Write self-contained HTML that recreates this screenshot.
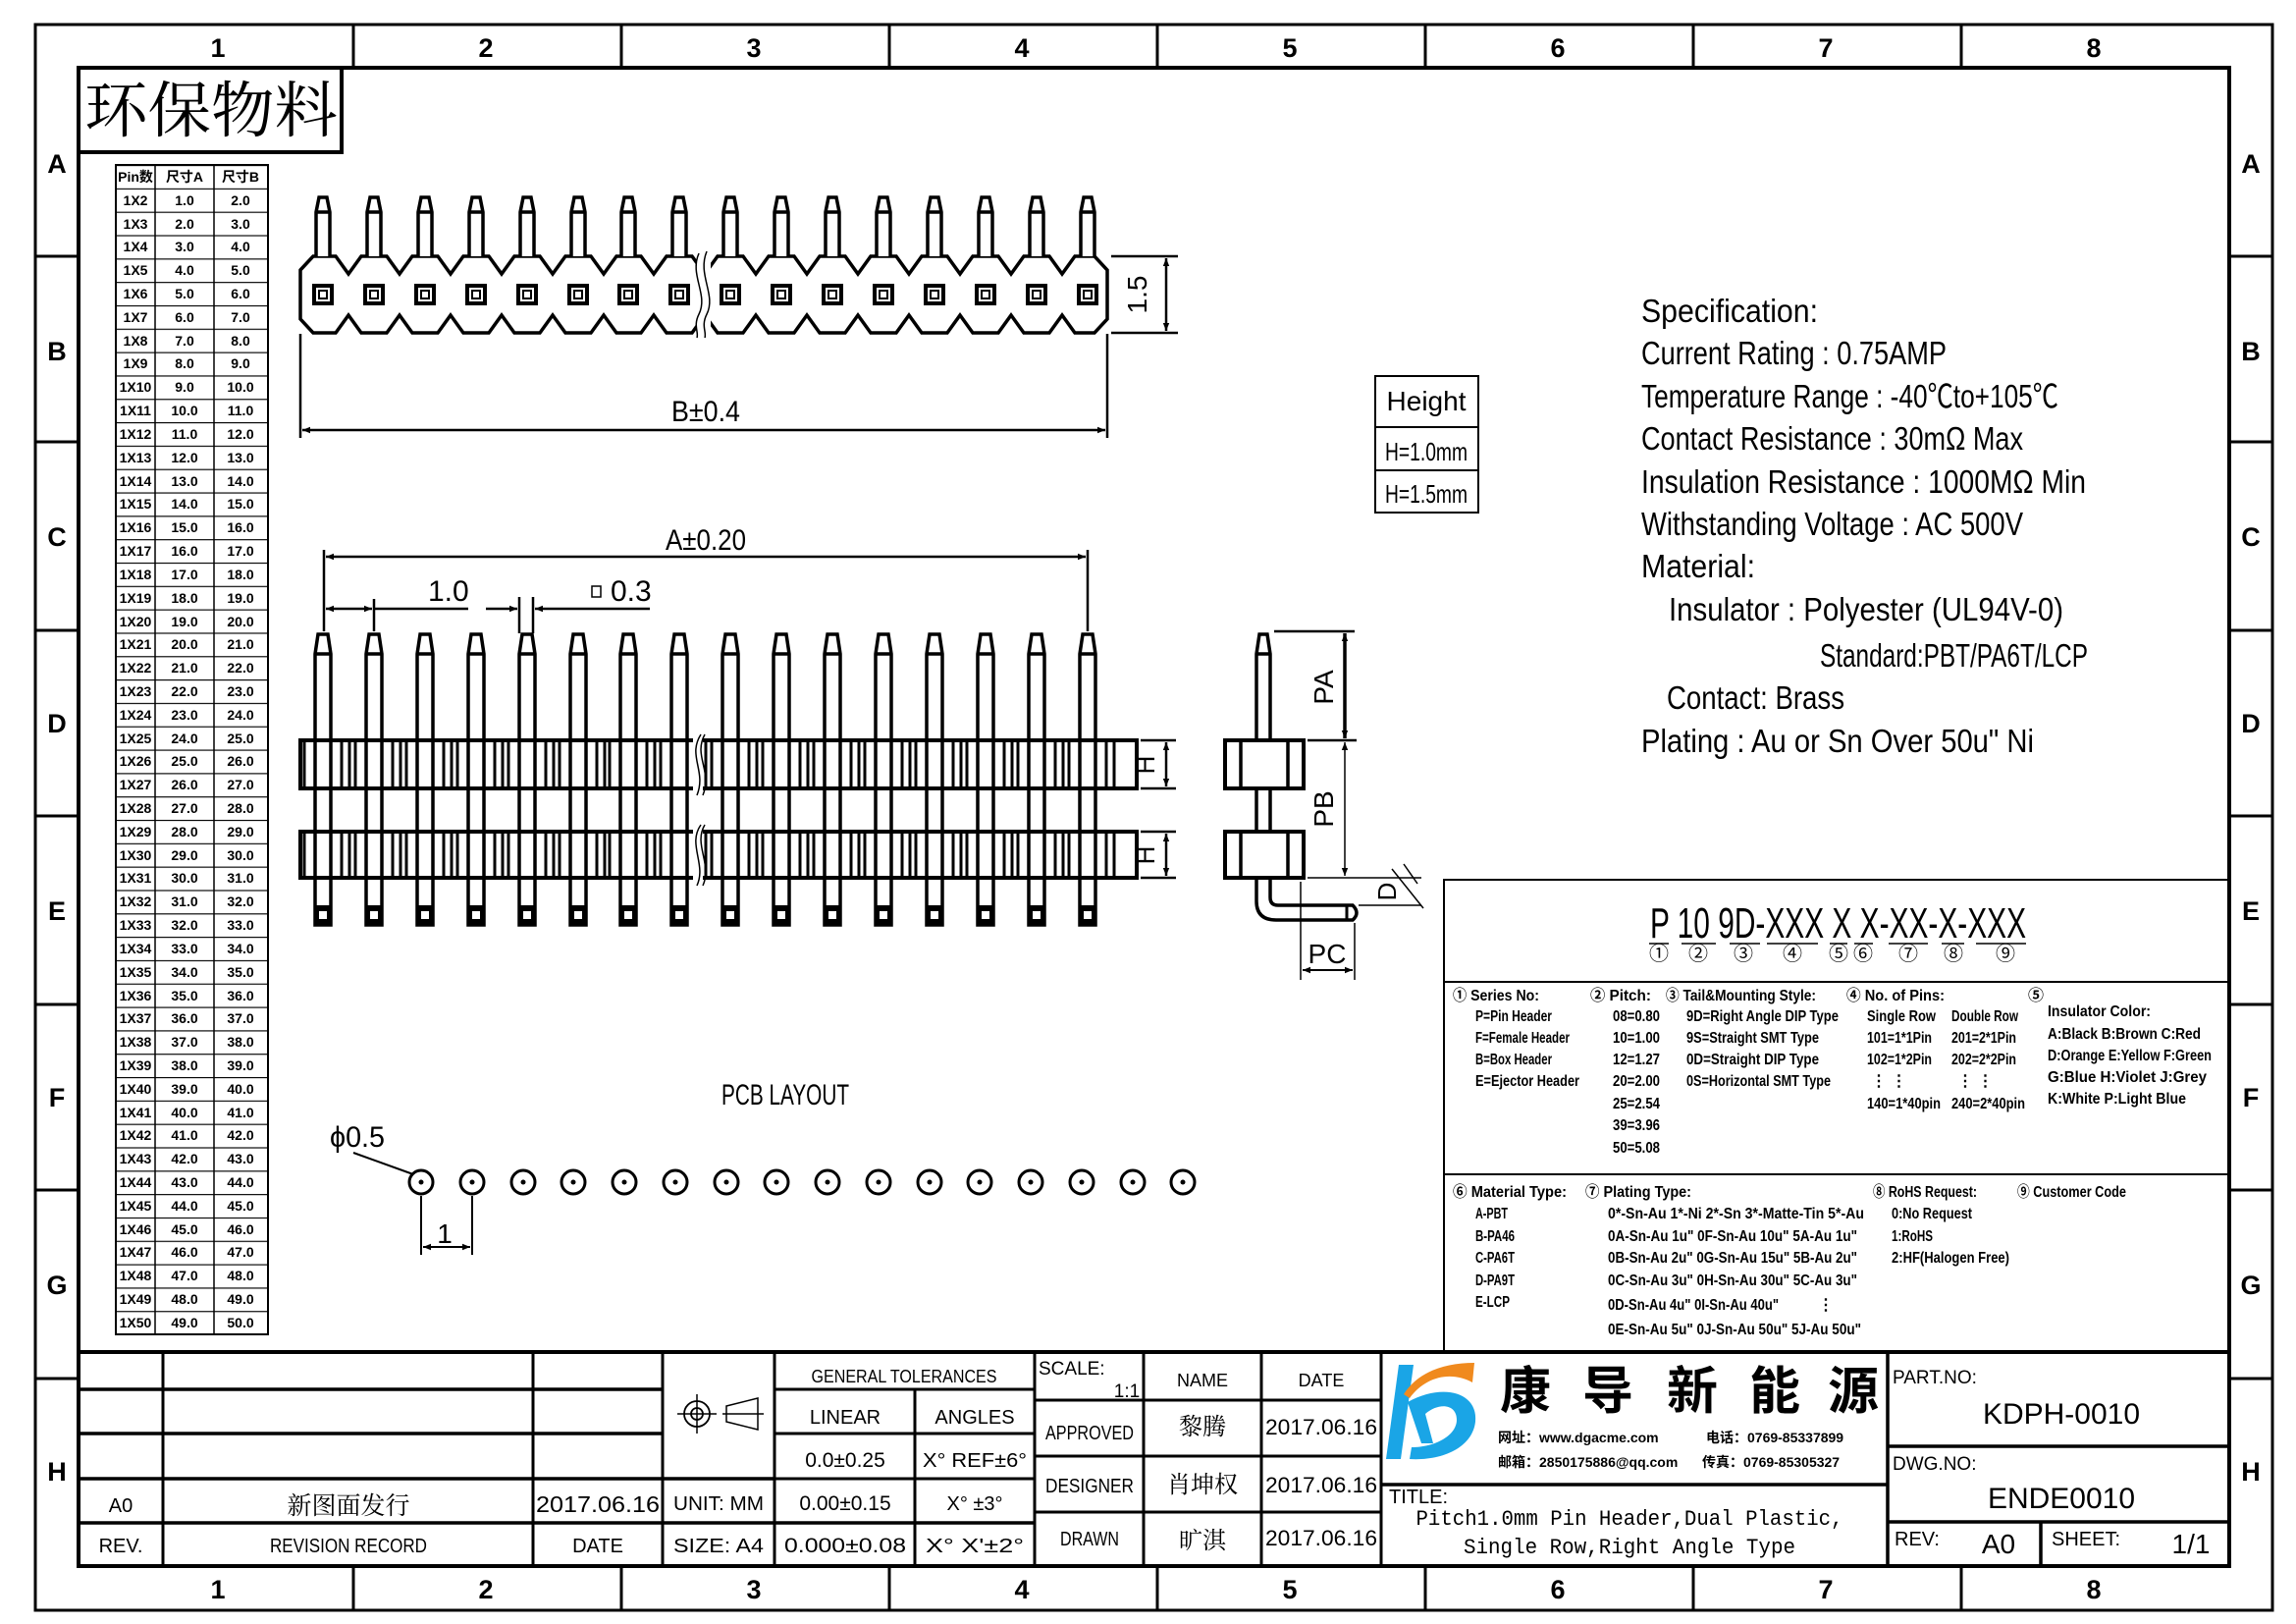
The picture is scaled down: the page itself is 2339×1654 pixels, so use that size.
<!DOCTYPE html>
<html><head><meta charset="utf-8">
<style>
html,body{margin:0;padding:0;background:#fff;}
svg{display:block;}
text{font-family:"Liberation Sans Narrow","Liberation Sans","Noto Sans CJK SC",sans-serif;fill:#000;}
.b{font-weight:bold;}
.m{text-anchor:middle;}
.cj{font-family:"Noto Sans CJK SC","WenQuanYi Zen Hei",sans-serif;}
</style></head><body>
<svg width="2339" height="1654" viewBox="0 0 2339 1654" xmlns="http://www.w3.org/2000/svg">
<defs>
<marker id="ar" viewBox="0 0 10 10" refX="10" refY="5" markerWidth="14" markerHeight="8" orient="auto-start-reverse" markerUnits="userSpaceOnUse"><path d="M0,1 L10,5 L0,9 Z" fill="#000"/></marker>
<pattern id="rows" x="0" y="168" width="10" height="23.82" patternUnits="userSpaceOnUse"><line x1="0" y1="0.5" x2="10" y2="0.5" stroke="#000" stroke-width="1.3"/></pattern>
<g id="tpin"><path d="M-7,261 V216 L-4,201 H4 L7,216 V261 M-7,216 H7" fill="#fff" stroke="#000" stroke-width="3.5"/>
<rect x="-9" y="291" width="18" height="18" fill="none" stroke="#000" stroke-width="4"/><rect x="-4" y="296" width="8" height="8" fill="none" stroke="#000" stroke-width="2"/></g>
<g id="fpin"><path d="M-8,942 V666 L-5,646 H5 L8,666 V942 Z M-8,666 H8" fill="#fff" stroke="#000" stroke-width="3.5"/>
<rect x="-8" y="922" width="16" height="20" fill="#000"/><rect x="-4" y="928" width="8" height="8" fill="#fff"/></g>
<g id="bl"><path d="M-19,756 V801 M19,756 V801 M27,756 V801 M-19,849 V892 M19,849 V892 M27,849 V892" stroke="#000" stroke-width="3"/></g>
<g id="pc"><circle cx="0" cy="1204" r="12" fill="none" stroke="#000" stroke-width="3"/><circle cx="0" cy="1204" r="2.5" fill="#000"/></g>
</defs>

<rect x="36" y="25" width="2279" height="1615" fill="none" stroke="#000" stroke-width="3"/>
<rect x="80" y="69" width="2191" height="1526" fill="none" stroke="#000" stroke-width="4"/>
<g stroke="#000" stroke-width="3">
<path d="M360,25V69 M633,25V69 M906,25V69 M1179,25V69 M1452,25V69 M1725,25V69 M1998,25V69"/>
<path d="M360,1595V1640 M633,1595V1640 M906,1595V1640 M1179,1595V1640 M1452,1595V1640 M1725,1595V1640 M1998,1595V1640"/>
<path d="M36,261H80 M36,450H80 M36,642H80 M36,831H80 M36,1023H80 M36,1212H80 M36,1404H80"/>
<path d="M2271,261H2315 M2271,450H2315 M2271,642H2315 M2271,831H2315 M2271,1023H2315 M2271,1212H2315 M2271,1404H2315"/>
</g>
<g class="b m" font-size="27" style="font-family:'Liberation Sans',sans-serif">
<text x="222" y="58">1</text><text x="495" y="58">2</text><text x="768" y="58">3</text><text x="1041" y="58">4</text><text x="1314" y="58">5</text><text x="1587" y="58">6</text><text x="1860" y="58">7</text><text x="2133" y="58">8</text>
<text x="222" y="1628">1</text><text x="495" y="1628">2</text><text x="768" y="1628">3</text><text x="1041" y="1628">4</text><text x="1314" y="1628">5</text><text x="1587" y="1628">6</text><text x="1860" y="1628">7</text><text x="2133" y="1628">8</text>
<text x="58" y="176">A</text><text x="58" y="367">B</text><text x="58" y="556">C</text><text x="58" y="746">D</text><text x="58" y="937">E</text><text x="58" y="1127">F</text><text x="58" y="1318">G</text><text x="58" y="1508">H</text>
<text x="2293" y="176">A</text><text x="2293" y="367">B</text><text x="2293" y="556">C</text><text x="2293" y="746">D</text><text x="2293" y="937">E</text><text x="2293" y="1127">F</text><text x="2293" y="1318">G</text><text x="2293" y="1508">H</text>
</g>

<rect x="80" y="69" width="268" height="86" fill="none" stroke="#000" stroke-width="4"/>
<text x="86" y="134" font-size="62" class="cj" style="font-family:'Noto Serif CJK SC','Noto Sans CJK SC',serif" textLength="258" lengthAdjust="spacingAndGlyphs">环保物料</text>

<rect x="118" y="168" width="155" height="1191" fill="url(#rows)" stroke="#000" stroke-width="2"/>
<path d="M158,168V1359 M218,168V1359" stroke="#000" stroke-width="1.5"/>
<g class="b m" font-size="14">
<text x="138" y="185">Pin数</text><text x="188" y="185">尺寸A</text><text x="245" y="185">尺寸B</text>
</g>
<g class="b m" font-size="14">
<text x="138" y="209">1X2</text><text x="188" y="209">1.0</text><text x="245" y="209">2.0</text>
<text x="138" y="233">1X3</text><text x="188" y="233">2.0</text><text x="245" y="233">3.0</text>
<text x="138" y="256">1X4</text><text x="188" y="256">3.0</text><text x="245" y="256">4.0</text>
<text x="138" y="280">1X5</text><text x="188" y="280">4.0</text><text x="245" y="280">5.0</text>
<text x="138" y="304">1X6</text><text x="188" y="304">5.0</text><text x="245" y="304">6.0</text>
<text x="138" y="328">1X7</text><text x="188" y="328">6.0</text><text x="245" y="328">7.0</text>
<text x="138" y="352">1X8</text><text x="188" y="352">7.0</text><text x="245" y="352">8.0</text>
<text x="138" y="375">1X9</text><text x="188" y="375">8.0</text><text x="245" y="375">9.0</text>
<text x="138" y="399">1X10</text><text x="188" y="399">9.0</text><text x="245" y="399">10.0</text>
<text x="138" y="423">1X11</text><text x="188" y="423">10.0</text><text x="245" y="423">11.0</text>
<text x="138" y="447">1X12</text><text x="188" y="447">11.0</text><text x="245" y="447">12.0</text>
<text x="138" y="471">1X13</text><text x="188" y="471">12.0</text><text x="245" y="471">13.0</text>
<text x="138" y="495">1X14</text><text x="188" y="495">13.0</text><text x="245" y="495">14.0</text>
<text x="138" y="518">1X15</text><text x="188" y="518">14.0</text><text x="245" y="518">15.0</text>
<text x="138" y="542">1X16</text><text x="188" y="542">15.0</text><text x="245" y="542">16.0</text>
<text x="138" y="566">1X17</text><text x="188" y="566">16.0</text><text x="245" y="566">17.0</text>
<text x="138" y="590">1X18</text><text x="188" y="590">17.0</text><text x="245" y="590">18.0</text>
<text x="138" y="614">1X19</text><text x="188" y="614">18.0</text><text x="245" y="614">19.0</text>
<text x="138" y="638">1X20</text><text x="188" y="638">19.0</text><text x="245" y="638">20.0</text>
<text x="138" y="661">1X21</text><text x="188" y="661">20.0</text><text x="245" y="661">21.0</text>
<text x="138" y="685">1X22</text><text x="188" y="685">21.0</text><text x="245" y="685">22.0</text>
<text x="138" y="709">1X23</text><text x="188" y="709">22.0</text><text x="245" y="709">23.0</text>
<text x="138" y="733">1X24</text><text x="188" y="733">23.0</text><text x="245" y="733">24.0</text>
<text x="138" y="757">1X25</text><text x="188" y="757">24.0</text><text x="245" y="757">25.0</text>
<text x="138" y="780">1X26</text><text x="188" y="780">25.0</text><text x="245" y="780">26.0</text>
<text x="138" y="804">1X27</text><text x="188" y="804">26.0</text><text x="245" y="804">27.0</text>
<text x="138" y="828">1X28</text><text x="188" y="828">27.0</text><text x="245" y="828">28.0</text>
<text x="138" y="852">1X29</text><text x="188" y="852">28.0</text><text x="245" y="852">29.0</text>
<text x="138" y="876">1X30</text><text x="188" y="876">29.0</text><text x="245" y="876">30.0</text>
<text x="138" y="899">1X31</text><text x="188" y="899">30.0</text><text x="245" y="899">31.0</text>
<text x="138" y="923">1X32</text><text x="188" y="923">31.0</text><text x="245" y="923">32.0</text>
<text x="138" y="947">1X33</text><text x="188" y="947">32.0</text><text x="245" y="947">33.0</text>
<text x="138" y="971">1X34</text><text x="188" y="971">33.0</text><text x="245" y="971">34.0</text>
<text x="138" y="995">1X35</text><text x="188" y="995">34.0</text><text x="245" y="995">35.0</text>
<text x="138" y="1019">1X36</text><text x="188" y="1019">35.0</text><text x="245" y="1019">36.0</text>
<text x="138" y="1042">1X37</text><text x="188" y="1042">36.0</text><text x="245" y="1042">37.0</text>
<text x="138" y="1066">1X38</text><text x="188" y="1066">37.0</text><text x="245" y="1066">38.0</text>
<text x="138" y="1090">1X39</text><text x="188" y="1090">38.0</text><text x="245" y="1090">39.0</text>
<text x="138" y="1114">1X40</text><text x="188" y="1114">39.0</text><text x="245" y="1114">40.0</text>
<text x="138" y="1138">1X41</text><text x="188" y="1138">40.0</text><text x="245" y="1138">41.0</text>
<text x="138" y="1161">1X42</text><text x="188" y="1161">41.0</text><text x="245" y="1161">42.0</text>
<text x="138" y="1185">1X43</text><text x="188" y="1185">42.0</text><text x="245" y="1185">43.0</text>
<text x="138" y="1209">1X44</text><text x="188" y="1209">43.0</text><text x="245" y="1209">44.0</text>
<text x="138" y="1233">1X45</text><text x="188" y="1233">44.0</text><text x="245" y="1233">45.0</text>
<text x="138" y="1257">1X46</text><text x="188" y="1257">45.0</text><text x="245" y="1257">46.0</text>
<text x="138" y="1280">1X47</text><text x="188" y="1280">46.0</text><text x="245" y="1280">47.0</text>
<text x="138" y="1304">1X48</text><text x="188" y="1304">47.0</text><text x="245" y="1304">48.0</text>
<text x="138" y="1328">1X49</text><text x="188" y="1328">48.0</text><text x="245" y="1328">49.0</text>
<text x="138" y="1352">1X50</text><text x="188" y="1352">49.0</text><text x="245" y="1352">50.0</text>
</g>

<path d="M306,275 L319,261 L342,261 L355,279 L368,261 L394,261 L407,279 L420,261 L446,261 L459,279 L472,261 L498,261 L511,279 L524,261 L550,261 L563,279 L576,261 L602,261 L615,279 L628,261 L653,261 L666,279 L679,261 L705,261 L718,279 L731,261 L757,261 L770,279 L783,261 L809,261 L822,279 L835,261 L861,261 L874,279 L887,261 L913,261 L926,279 L939,261 L965,261 L978,279 L991,261 L1017,261 L1030,279 L1043,261 L1069,261 L1082,279 L1095,261 L1115,261 L1128,275 V325 L1115,339 L1095,339 L1082,321 L1069,339 L1043,339 L1030,321 L1017,339 L991,339 L978,321 L965,339 L939,339 L926,321 L913,339 L887,339 L874,321 L861,339 L835,339 L822,321 L809,339 L783,339 L770,321 L757,339 L731,339 L718,321 L705,339 L679,339 L666,321 L653,339 L628,339 L615,321 L602,339 L576,339 L563,321 L550,339 L524,339 L511,321 L498,339 L472,339 L459,321 L446,339 L420,339 L407,321 L394,339 L368,339 L355,321 L342,339 L319,339 L306,325 Z" fill="#fff" stroke="#000" stroke-width="3.5"/>
<use href="#tpin" x="329"/><use href="#tpin" x="381"/><use href="#tpin" x="433"/><use href="#tpin" x="485"/><use href="#tpin" x="537"/><use href="#tpin" x="589"/><use href="#tpin" x="640"/><use href="#tpin" x="692"/><use href="#tpin" x="744"/><use href="#tpin" x="796"/><use href="#tpin" x="848"/><use href="#tpin" x="900"/><use href="#tpin" x="952"/><use href="#tpin" x="1004"/><use href="#tpin" x="1056"/><use href="#tpin" x="1108"/>
<rect x="710" y="258" width="14" height="84" fill="#fff"/>
<path d="M712,258 C702,280 722,300 712,320 C706,332 712,338 710,344 M720,256 C710,280 730,300 720,320 C714,332 720,338 718,344" fill="none" stroke="#000" stroke-width="1.5"/>
<g stroke="#000" stroke-width="2.5" fill="none">
<path d="M306,340 V446 M1128,340 V446"/>
<path d="M308,438 H1126" marker-start="url(#ar)" marker-end="url(#ar)"/>
<path d="M1132,261 H1200 M1132,339 H1200"/>
<path d="M1188,263 V337" marker-start="url(#ar)" marker-end="url(#ar)"/>
</g>
<text x="684" y="429" font-size="30" textLength="70" lengthAdjust="spacingAndGlyphs">B±0.4</text>
<text transform="translate(1168,300) rotate(-90)" font-size="28" class="m">1.5</text>

<g stroke="#000" stroke-width="2.5" fill="none">
<path d="M330,560 V643 M1108,560 V643"/>
<path d="M332,567 H1106" marker-start="url(#ar)" marker-end="url(#ar)"/>
<path d="M381,610 V643"/>
<path d="M332,620 H379" marker-start="url(#ar)" marker-end="url(#ar)"/>
<path d="M381,620 H477"/>
<path d="M529,608 V645 M543,608 V645"/>
<path d="M495,620 H527" marker-end="url(#ar)"/>
<path d="M576,620 H545" marker-end="url(#ar)"/>
<path d="M576,620 H662"/>
</g>
<text x="678" y="560" font-size="30" textLength="82" lengthAdjust="spacingAndGlyphs">A±0.20</text>
<text x="436" y="612" font-size="30">1.0</text>
<rect x="603" y="597" width="9" height="11" fill="none" stroke="#000" stroke-width="1.5"/>
<text x="622" y="612" font-size="30">0.3</text>
<rect x="306" y="754" width="852" height="49" fill="#fff" stroke="#000" stroke-width="4"/>
<rect x="306" y="847" width="852" height="47" fill="#fff" stroke="#000" stroke-width="4"/>
<use href="#fpin" x="329"/><use href="#fpin" x="381"/><use href="#fpin" x="433"/><use href="#fpin" x="485"/><use href="#fpin" x="537"/><use href="#fpin" x="589"/><use href="#fpin" x="640"/><use href="#fpin" x="692"/><use href="#fpin" x="744"/><use href="#fpin" x="796"/><use href="#fpin" x="848"/><use href="#fpin" x="900"/><use href="#fpin" x="952"/><use href="#fpin" x="1004"/><use href="#fpin" x="1056"/><use href="#fpin" x="1108"/>
<rect x="306" y="754" width="852" height="49" fill="none" stroke="#000" stroke-width="4"/>
<rect x="306" y="847" width="852" height="47" fill="none" stroke="#000" stroke-width="4"/>
<g>
<use href="#bl" x="329"/><use href="#bl" x="381"/><use href="#bl" x="433"/><use href="#bl" x="485"/><use href="#bl" x="537"/><use href="#bl" x="589"/><use href="#bl" x="640"/><use href="#bl" x="692"/><use href="#bl" x="744"/><use href="#bl" x="796"/><use href="#bl" x="848"/><use href="#bl" x="900"/><use href="#bl" x="952"/><use href="#bl" x="1004"/><use href="#bl" x="1056"/><use href="#bl" x="1108"/>
</g>
<rect x="706" y="750" width="10" height="57" fill="#fff"/><rect x="706" y="843" width="10" height="55" fill="#fff"/>
<path d="M714,748 C700,770 720,785 710,810 M718,748 C706,770 726,785 716,810 M714,840 C700,860 720,880 710,902 M718,840 C706,860 726,880 716,902" fill="none" stroke="#000" stroke-width="1.5"/>
<g stroke="#000" stroke-width="2.5" fill="none">
<path d="M1162,754 H1198 M1162,803 H1198 M1162,847 H1198 M1162,894 H1198"/>
<path d="M1188,756 V801" marker-start="url(#ar)" marker-end="url(#ar)"/>
<path d="M1188,849 V892" marker-start="url(#ar)" marker-end="url(#ar)"/>
</g>
<text transform="translate(1176,779) rotate(-90)" font-size="26" class="m">H</text>
<text transform="translate(1176,871) rotate(-90)" font-size="26" class="m">H</text>

<path d="M1280,894 V666 L1283,646 H1291 L1294,666 V894 M1280,666 H1294" fill="#fff" stroke="#000" stroke-width="3.5"/>
<path d="M1280,894 V918 Q1280,937 1300,937 H1378 Q1386,930 1378,922 H1302 Q1294,922 1294,914 V894" fill="#fff" stroke="#000" stroke-width="3.5"/>
<path d="M1372,922 V937" stroke="#000" stroke-width="3"/>
<rect x="1248" y="754" width="80" height="49" fill="#fff" stroke="#000" stroke-width="4"/>
<rect x="1248" y="847" width="80" height="47" fill="#fff" stroke="#000" stroke-width="4"/>
<path d="M1264,754V803 M1312,754V803 M1264,847V894 M1312,847V894" stroke="#000" stroke-width="3.5"/>
<g stroke="#000" stroke-width="2.5" fill="none">
<path d="M1298,643 H1380 M1332,754 H1382"/>
<path d="M1370,645 V752" marker-start="url(#ar)" marker-end="url(#ar)" stroke-width="3.5"/>
<path d="M1370,756 V892" marker-start="url(#ar)" marker-end="url(#ar)" stroke-width="1.5"/>
<path d="M1332,894 H1448 M1384,922 H1448" stroke-width="1.5"/>
<path d="M1418,885 L1450,925 M1430,880 L1444,900" stroke-width="1.5"/>
<path d="M1325,898 V998 M1380,940 V998" stroke-width="1.5"/>
<path d="M1327,988 H1378" marker-start="url(#ar)" marker-end="url(#ar)" stroke-width="2"/>
</g>
<text transform="translate(1370,700) rotate(-90)" font-size="28" class="m" dy="-12">PA</text>
<text transform="translate(1370,824) rotate(-90)" font-size="28" class="m" dy="-12">PB</text>
<text transform="translate(1428,908) rotate(-90)" font-size="26" class="m" dy="-6">D</text>
<text x="1352" y="981" font-size="28" class="m">PC</text>

<rect x="1401" y="383" width="105" height="139" fill="none" stroke="#000" stroke-width="2"/>
<path d="M1401,435H1506 M1401,479H1506" stroke="#000" stroke-width="2"/>
<text x="1453" y="418" font-size="28" class="m">Height</text>
<text x="1453" y="469" font-size="26" class="m" textLength="84" lengthAdjust="spacingAndGlyphs">H=1.0mm</text>
<text x="1453" y="512" font-size="26" class="m" textLength="84" lengthAdjust="spacingAndGlyphs">H=1.5mm</text>

<g font-size="33">
<text x="1672" y="328" textLength="180" lengthAdjust="spacingAndGlyphs">Specification:</text>
<text x="1672" y="371" textLength="311" lengthAdjust="spacingAndGlyphs">Current Rating : 0.75AMP</text>
<text x="1672" y="415" textLength="425" lengthAdjust="spacingAndGlyphs">Temperature Range : -40℃to+105℃</text>
<text x="1672" y="458" textLength="389" lengthAdjust="spacingAndGlyphs">Contact Resistance : 30mΩ Max</text>
<text x="1672" y="502" textLength="453" lengthAdjust="spacingAndGlyphs">Insulation Resistance : 1000MΩ Min</text>
<text x="1672" y="545" textLength="389" lengthAdjust="spacingAndGlyphs">Withstanding Voltage : AC 500V</text>
<text x="1672" y="588" textLength="116" lengthAdjust="spacingAndGlyphs">Material:</text>
<text x="1700" y="632" textLength="402" lengthAdjust="spacingAndGlyphs">Insulator : Polyester (UL94V-0)</text>
<text x="1854" y="679" textLength="273" lengthAdjust="spacingAndGlyphs">Standard:PBT/PA6T/LCP</text>
<text x="1698" y="722" textLength="181" lengthAdjust="spacingAndGlyphs">Contact: Brass</text>
<text x="1672" y="766" textLength="400" lengthAdjust="spacingAndGlyphs">Plating : Au or Sn Over 50u" Ni</text>
</g>

<text x="800" y="1125" font-size="30" class="m" textLength="130" lengthAdjust="spacingAndGlyphs">PCB LAYOUT</text>
<text x="336" y="1168" font-size="30" textLength="56" lengthAdjust="spacingAndGlyphs">ϕ0.5</text>
<path d="M360,1174 L421,1196" stroke="#000" stroke-width="2"/>
<use href="#pc" x="429"/><use href="#pc" x="481"/><use href="#pc" x="533"/><use href="#pc" x="584"/><use href="#pc" x="636"/><use href="#pc" x="688"/><use href="#pc" x="740"/><use href="#pc" x="791"/><use href="#pc" x="843"/><use href="#pc" x="895"/><use href="#pc" x="947"/><use href="#pc" x="998"/><use href="#pc" x="1050"/><use href="#pc" x="1102"/><use href="#pc" x="1154"/><use href="#pc" x="1205"/>
<g stroke="#000" stroke-width="2" fill="none">
<path d="M429,1218 V1278 M481,1218 V1278"/>
<path d="M431,1270 H479" marker-start="url(#ar)" marker-end="url(#ar)"/>
</g>
<text x="453" y="1266" font-size="28" class="m">1</text>

<rect x="1471" y="896" width="800" height="481" fill="none" stroke="#000" stroke-width="2"/>
<path d="M1471,1000H2271 M1471,1196H2271" stroke="#000" stroke-width="2"/>
<text x="1681" y="955" font-size="44" textLength="383" lengthAdjust="spacingAndGlyphs">P 10 9D-XXX X X-XX-X-XXX</text>
<path d="M1680,961H1700 M1713,961H1748 M1762,961H1793 M1800,961H1852 M1864,961H1882 M1889,961H1908 M1924,961H1964 M1978,961H2001 M2013,961H2064" stroke="#000" stroke-width="1.5"/>
<g font-size="20" class="m">
<text x="1690" y="978">①</text><text x="1730" y="978">②</text><text x="1776" y="978">③</text><text x="1826" y="978">④</text><text x="1873" y="978">⑤</text><text x="1898" y="978">⑥</text><text x="1944" y="978">⑦</text><text x="1990" y="978">⑧</text><text x="2043" y="978">⑨</text>
</g>
<g font-size="16" class="b">
<text x="1480" y="1019" textLength="88" lengthAdjust="spacingAndGlyphs">① Series No:</text>
<text x="1503" y="1040" textLength="78" lengthAdjust="spacingAndGlyphs">P=Pin Header</text>
<text x="1503" y="1062" textLength="96" lengthAdjust="spacingAndGlyphs">F=Female Header</text>
<text x="1503" y="1084" textLength="78" lengthAdjust="spacingAndGlyphs">B=Box Header</text>
<text x="1503" y="1106" textLength="106" lengthAdjust="spacingAndGlyphs">E=Ejector Header</text>
<text x="1620" y="1019" textLength="62" lengthAdjust="spacingAndGlyphs">② Pitch:</text>
<text x="1643" y="1040" textLength="48" lengthAdjust="spacingAndGlyphs">08=0.80</text>
<text x="1643" y="1062" textLength="48" lengthAdjust="spacingAndGlyphs">10=1.00</text>
<text x="1643" y="1084" textLength="48" lengthAdjust="spacingAndGlyphs">12=1.27</text>
<text x="1643" y="1106" textLength="48" lengthAdjust="spacingAndGlyphs">20=2.00</text>
<text x="1643" y="1129" textLength="48" lengthAdjust="spacingAndGlyphs">25=2.54</text>
<text x="1643" y="1151" textLength="48" lengthAdjust="spacingAndGlyphs">39=3.96</text>
<text x="1643" y="1174" textLength="48" lengthAdjust="spacingAndGlyphs">50=5.08</text>
<text x="1697" y="1019" textLength="153" lengthAdjust="spacingAndGlyphs">③ Tail&amp;Mounting Style:</text>
<text x="1718" y="1040" textLength="155" lengthAdjust="spacingAndGlyphs">9D=Right Angle DIP Type</text>
<text x="1718" y="1062" textLength="135" lengthAdjust="spacingAndGlyphs">9S=Straight SMT Type</text>
<text x="1718" y="1084" textLength="135" lengthAdjust="spacingAndGlyphs">0D=Straight DIP Type</text>
<text x="1718" y="1106" textLength="147" lengthAdjust="spacingAndGlyphs">0S=Horizontal SMT Type</text>
<text x="1881" y="1019" textLength="100" lengthAdjust="spacingAndGlyphs">④ No. of Pins:</text>
<text x="1902" y="1040" textLength="70" lengthAdjust="spacingAndGlyphs">Single Row</text><text x="1988" y="1040" textLength="68" lengthAdjust="spacingAndGlyphs">Double Row</text>
<text x="1902" y="1062" textLength="66" lengthAdjust="spacingAndGlyphs">101=1*1Pin</text><text x="1988" y="1062" textLength="66" lengthAdjust="spacingAndGlyphs">201=2*1Pin</text>
<text x="1902" y="1084" textLength="66" lengthAdjust="spacingAndGlyphs">102=1*2Pin</text><text x="1988" y="1084" textLength="66" lengthAdjust="spacingAndGlyphs">202=2*2Pin</text>
<text x="1906" y="1106">⋮  ⋮</text><text x="1994" y="1106">⋮  ⋮</text>
<text x="1902" y="1129" textLength="75" lengthAdjust="spacingAndGlyphs">140=1*40pin</text><text x="1988" y="1129" textLength="75" lengthAdjust="spacingAndGlyphs">240=2*40pin</text>
<text x="2066" y="1019">⑤</text>
<text x="2086" y="1035" textLength="105" lengthAdjust="spacingAndGlyphs">Insulator Color:</text>
<text x="2086" y="1058" textLength="156" lengthAdjust="spacingAndGlyphs">A:Black  B:Brown  C:Red</text>
<text x="2086" y="1080" textLength="167" lengthAdjust="spacingAndGlyphs">D:Orange E:Yellow F:Green</text>
<text x="2086" y="1102" textLength="162" lengthAdjust="spacingAndGlyphs">G:Blue   H:Violet J:Grey</text>
<text x="2086" y="1124" textLength="141" lengthAdjust="spacingAndGlyphs">K:White  P:Light Blue</text>
<text x="1480" y="1219" textLength="116" lengthAdjust="spacingAndGlyphs">⑥ Material Type:</text>
<text x="1503" y="1241" textLength="33" lengthAdjust="spacingAndGlyphs">A-PBT</text>
<text x="1503" y="1264" textLength="40" lengthAdjust="spacingAndGlyphs">B-PA46</text>
<text x="1503" y="1286" textLength="40" lengthAdjust="spacingAndGlyphs">C-PA6T</text>
<text x="1503" y="1309" textLength="40" lengthAdjust="spacingAndGlyphs">D-PA9T</text>
<text x="1503" y="1331" textLength="35" lengthAdjust="spacingAndGlyphs">E-LCP</text>
<text x="1615" y="1219" textLength="108" lengthAdjust="spacingAndGlyphs">⑦ Plating Type:</text>
<text x="1638" y="1241" textLength="261" lengthAdjust="spacingAndGlyphs">0*-Sn-Au 1*-Ni 2*-Sn 3*-Matte-Tin 5*-Au</text>
<text x="1638" y="1264" textLength="254" lengthAdjust="spacingAndGlyphs">0A-Sn-Au 1u" 0F-Sn-Au 10u"  5A-Au 1u"</text>
<text x="1638" y="1286" textLength="254" lengthAdjust="spacingAndGlyphs">0B-Sn-Au 2u" 0G-Sn-Au 15u"  5B-Au 2u"</text>
<text x="1638" y="1309" textLength="254" lengthAdjust="spacingAndGlyphs">0C-Sn-Au 3u" 0H-Sn-Au 30u"  5C-Au 3u"</text>
<text x="1638" y="1334" textLength="174" lengthAdjust="spacingAndGlyphs">0D-Sn-Au 4u" 0I-Sn-Au 40u"</text><text x="1852" y="1334">⋮</text>
<text x="1638" y="1359" textLength="258" lengthAdjust="spacingAndGlyphs">0E-Sn-Au 5u" 0J-Sn-Au 50u"  5J-Au 50u"</text>
<text x="1908" y="1219" textLength="106" lengthAdjust="spacingAndGlyphs">⑧ RoHS Request:</text>
<text x="1927" y="1241" textLength="82" lengthAdjust="spacingAndGlyphs">0:No Request</text>
<text x="1927" y="1264" textLength="42" lengthAdjust="spacingAndGlyphs">1:RoHS</text>
<text x="1927" y="1286" textLength="120" lengthAdjust="spacingAndGlyphs">2:HF(Halogen Free)</text>
<text x="2055" y="1219" textLength="111" lengthAdjust="spacingAndGlyphs">⑨ Customer Code</text>
</g>

<g stroke="#000" fill="none">
<path d="M80,1377 H2271" stroke-width="4"/>
<path d="M80,1415 H675 M80,1460 H675 M80,1506 H789 M80,1551 H1054" stroke-width="3.5"/>
<path d="M789,1415 H1054 M789,1460 H1054 M789,1506 H1054" stroke-width="3"/>
<path d="M166,1377V1595 M543,1377V1595 M675,1377V1595 M789,1377V1595 M932,1415V1595 M1054,1377V1595 M1165,1377V1595 M1285,1377V1595 M1407,1377V1595" stroke-width="3"/>
<path d="M1054,1426 H1407 M1054,1483 H1407 M1054,1540 H1407" stroke-width="3"/>
<path d="M1407,1512 H1923 M1923,1377 V1595 M1923,1473 H2271 M1923,1550 H2271 M2079,1550 V1595" stroke-width="3.5"/>
<circle cx="710" cy="1440" r="13" stroke-width="1.8"/><circle cx="710" cy="1440" r="6" stroke-width="1.8"/>
<path d="M710,1420V1460 M690,1440H730 M740,1432 L772,1424 V1456 L740,1448 Z M736,1440H778" stroke-width="1.5"/>
</g>
<g font-size="20" class="m">
<text x="123" y="1540">A0</text>
<text x="355" y="1542" font-size="25" class="cj" style="font-family:'Noto Serif CJK SC',serif">新图面发行</text>
<text x="609" y="1540" font-size="23" textLength="126" lengthAdjust="spacingAndGlyphs">2017.06.16</text>
<text x="732" y="1538" textLength="92" lengthAdjust="spacingAndGlyphs">UNIT: MM</text>
<text x="861" y="1538" font-size="21">0.00±0.15</text>
<text x="993" y="1538">X° ±3°</text>
<text x="123" y="1581">REV.</text>
<text x="355" y="1581" textLength="160" lengthAdjust="spacingAndGlyphs">REVISION RECORD</text>
<text x="609" y="1581">DATE</text>
<text x="732" y="1581" textLength="92" lengthAdjust="spacingAndGlyphs">SIZE: A4</text>
<text x="861" y="1581" font-size="21" textLength="124" lengthAdjust="spacingAndGlyphs">0.000±0.08</text>
<text x="993" y="1581" textLength="100" lengthAdjust="spacingAndGlyphs">X° X'±2°</text>
<text x="921" y="1408" font-size="18" textLength="189" lengthAdjust="spacingAndGlyphs">GENERAL TOLERANCES</text>
<text x="861" y="1450">LINEAR</text><text x="993" y="1450">ANGLES</text>
<text x="861" y="1494" font-size="21">0.0±0.25</text><text x="993" y="1494" textLength="106" lengthAdjust="spacingAndGlyphs">X° REF±6°</text>
<text x="1225" y="1412" font-size="18">NAME</text><text x="1346" y="1412" font-size="18">DATE</text>
<text x="1110" y="1466" textLength="90" lengthAdjust="spacingAndGlyphs">APPROVED</text>
<text x="1110" y="1520" textLength="90" lengthAdjust="spacingAndGlyphs">DESIGNER</text>
<text x="1110" y="1574" textLength="60" lengthAdjust="spacingAndGlyphs">DRAWN</text>
<text x="1225" y="1461" font-size="24" class="cj" style="font-family:'Noto Serif CJK SC',serif">黎腾</text>
<text x="1225" y="1520" font-size="24" class="cj" style="font-family:'Noto Serif CJK SC',serif">肖坤权</text>
<text x="1225" y="1577" font-size="24" class="cj" style="font-family:'Noto Serif CJK SC',serif">旷淇</text>
<text x="1346" y="1461" font-size="22" textLength="114" lengthAdjust="spacingAndGlyphs">2017.06.16</text>
<text x="1346" y="1520" font-size="22" textLength="114" lengthAdjust="spacingAndGlyphs">2017.06.16</text>
<text x="1346" y="1574" font-size="22" textLength="114" lengthAdjust="spacingAndGlyphs">2017.06.16</text>
</g>
<text x="1058" y="1400" font-size="19">SCALE:</text>
<text x="1148" y="1423" font-size="19" class="m">1:1</text>

<path d="M1425,1390 H1440 L1427,1486 H1412 Z" fill="#1aa5e6"/>
<path d="M1434,1428 C1470,1408 1506,1418 1503,1448 C1500,1474 1470,1488 1436,1486 L1438,1474 C1462,1474 1484,1462 1484,1446 C1484,1430 1466,1428 1452,1440 L1460,1470 L1448,1470 L1438,1440 Z" fill="#1aa5e6"/>
<path d="M1430,1420 C1444,1398 1470,1388 1502,1388 L1500,1408 C1478,1396 1452,1402 1436,1424 Z" fill="#f08a1e"/>
<g font-size="52" class="b cj">
<text x="1528" y="1435">康</text><text x="1612" y="1435">导</text><text x="1698" y="1435">新</text><text x="1782" y="1435">能</text><text x="1862" y="1435">源</text>
</g>
<g font-size="14" class="b" style="font-family:'Liberation Sans','Noto Sans CJK SC',sans-serif">
<text x="1526" y="1469">网址：www.dgacme.com</text><text x="1738" y="1469">电话：0769-85337899</text>
<text x="1526" y="1494">邮箱：2850175886@qq.com</text><text x="1734" y="1494">传真：0769-85305327</text>
</g>
<text x="1415" y="1531" font-size="20">TITLE:</text>
<text x="1660" y="1553" font-size="22" class="m" style="font-family:'Liberation Mono',monospace" textLength="435" lengthAdjust="spacingAndGlyphs">Pitch1.0mm Pin Header,Dual Plastic,</text>
<text x="1660" y="1582" font-size="22" class="m" style="font-family:'Liberation Mono',monospace" textLength="338" lengthAdjust="spacingAndGlyphs">Single Row,Right Angle Type</text>
<text x="1928" y="1409" font-size="19">PART.NO:</text>
<text x="2100" y="1450" font-size="30" class="m">KDPH-0010</text>
<text x="1928" y="1497" font-size="19">DWG.NO:</text>
<text x="2100" y="1536" font-size="30" class="m">ENDE0010</text>
<text x="1930" y="1574" font-size="20">REV:</text>
<text x="2036" y="1582" font-size="28" class="m">A0</text>
<text x="2090" y="1574" font-size="20">SHEET:</text>
<text x="2232" y="1582" font-size="28" class="m">1/1</text>
</svg>
</body></html>
